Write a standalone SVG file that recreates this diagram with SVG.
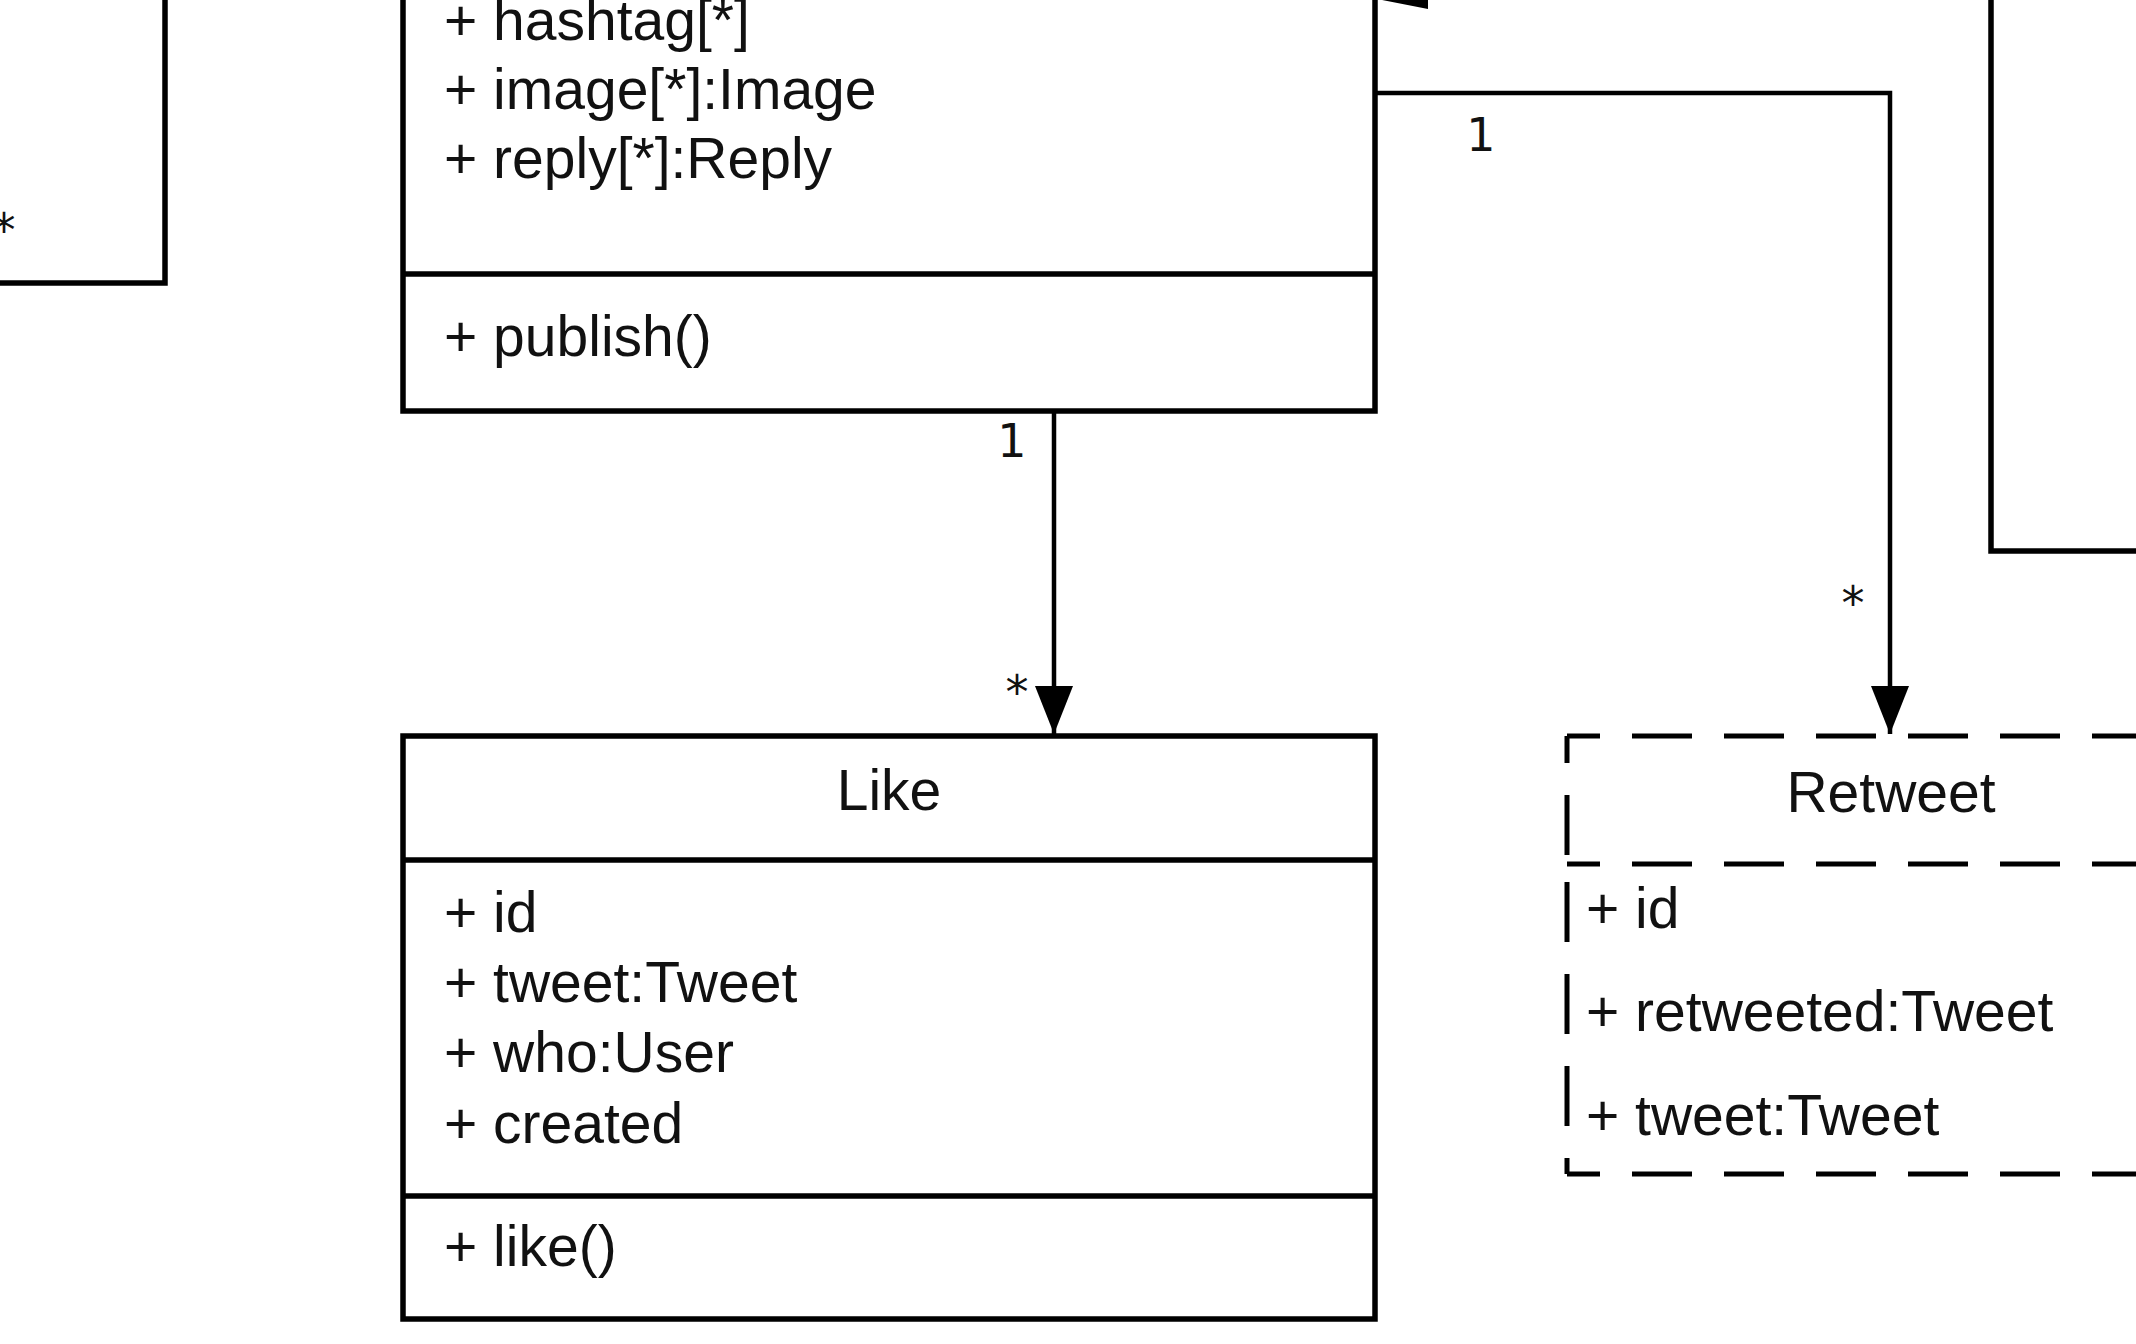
<svg xmlns="http://www.w3.org/2000/svg" width="2136" height="1344" viewBox="0 0 2136 1344">
<style>
.box{fill:#ffffff;stroke:#000000;stroke-width:5.5}
.sep{stroke:#000000;stroke-width:5.5;fill:none}
.dash{stroke:#000000;stroke-width:5;fill:none;stroke-dasharray:60 32}
.t{font-family:"Liberation Sans",Arial,sans-serif;font-size:57px;fill:#111111}
.c{text-anchor:middle}
.lbl{font-family:"DejaVu Sans",sans-serif;font-size:46px;fill:#111111;text-anchor:middle}
.edge{stroke:#000000;stroke-width:4.5;fill:none}
</style>
<defs>
<marker id="arr" viewBox="0 0 48 38" refX="48" refY="19" markerWidth="48" markerHeight="38" markerUnits="userSpaceOnUse" orient="auto">
<path d="M0,0 L48,19 L0,38 Z" fill="#000000"/>
</marker>
</defs>
<rect width="2136" height="1344" fill="#ffffff"/>

<g id="node-left">
<rect class="box" x="-20" y="-20" width="185" height="303"/>
</g>

<g id="node-right">
<rect class="box" x="1991" y="-20" width="200" height="571"/>
</g>

<g id="node-tweet">
<rect class="box" x="403" y="-20" width="972" height="431"/>
<line class="sep" x1="403" y1="274" x2="1375" y2="274"/>
<text class="t" x="444" y="40">+ hashtag[*]</text>
<text class="t" x="444" y="109">+ image[*]:Image</text>
<text class="t" x="444" y="178">+ reply[*]:Reply</text>
<text class="t" x="444" y="356">+ publish()</text>
</g>

<g id="node-like">
<rect class="box" x="403" y="736" width="972" height="583"/>
<line class="sep" x1="403" y1="860" x2="1375" y2="860"/>
<line class="sep" x1="403" y1="1196" x2="1375" y2="1196"/>
<text class="t c" x="889" y="810">Like</text>
<text class="t" x="444" y="932">+ id</text>
<text class="t" x="444" y="1002">+ tweet:Tweet</text>
<text class="t" x="444" y="1072">+ who:User</text>
<text class="t" x="444" y="1143">+ created</text>
<text class="t" x="444" y="1266">+ like()</text>
</g>

<g id="node-retweet">
<line class="dash" x1="1567" y1="736" x2="2140" y2="736" stroke-dashoffset="27"/>
<line class="dash" x1="1567" y1="864" x2="2140" y2="864" stroke-dashoffset="27"/>
<line class="dash" x1="1567" y1="1174" x2="2140" y2="1174" stroke-dashoffset="27"/>
<line class="dash" x1="1567" y1="736" x2="1567" y2="864" stroke-dashoffset="33"/>
<line class="dash" x1="1567" y1="864" x2="1567" y2="1174" stroke-dashoffset="74"/>
<text class="t c" x="1891" y="812">Retweet</text>
<text class="t" x="1586" y="928">+ id</text>
<text class="t" x="1586" y="1031">+ retweeted:Tweet</text>
<text class="t" x="1586" y="1135">+ tweet:Tweet</text>
</g>

<g id="connectors">
<polygon points="1377,-1 1428,-20 1428,9" fill="#000000"/>
<polyline class="edge" points="1375,93 1890,93 1890,734" marker-end="url(#arr)"/>
<line class="edge" x1="1054" y1="411" x2="1054" y2="734" marker-end="url(#arr)"/>
<text class="lbl" x="1481" y="151">1</text>
<text class="lbl" x="1853" y="619">*</text>
<text class="lbl" x="1012" y="457">1</text>
<text class="lbl" x="1017" y="708">*</text>
<text class="lbl" x="4" y="246">*</text>
</g>
</svg>
